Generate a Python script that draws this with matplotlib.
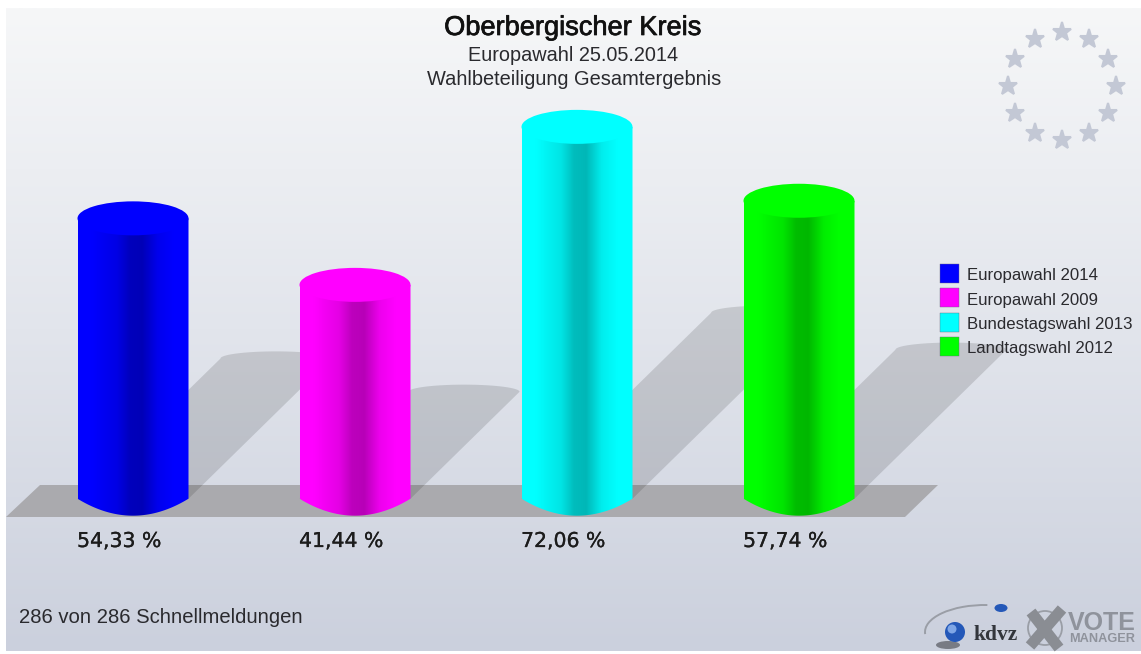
import numpy as np
import matplotlib
matplotlib.use("Agg")
import matplotlib.pyplot as plt
from matplotlib.patches import Polygon, Rectangle, Ellipse, Circle, Arc
from matplotlib.colors import LinearSegmentedColormap
import matplotlib.patheffects as pe

# ---------- data ----------
categories = ["Europawahl 2014", "Europawahl 2009", "Bundestagswahl 2013", "Landtagswahl 2012"]
turnout = [54.33, 41.44, 72.06, 57.74]
colors = ["#0000ff", "#ff00ff", "#00ffff", "#00ff00"]
title = "Oberbergischer Kreis"
subtitle = "Europawahl 25.05.2014"
subtitle2 = "Wahlbeteiligung Gesamtergebnis"
footer = "286 von 286 Schnellmeldungen"

W, H = 1141, 654
plt.rcParams["font.family"] = ["Liberation Sans", "DejaVu Sans"]
fig = plt.figure(figsize=(W / 100, H / 100), dpi=100, facecolor="white")

# decoration layer: pixel coordinates
bg = fig.add_axes([0, 0, 1, 1], zorder=0)
bg.set_xlim(0, W); bg.set_ylim(H, 0); bg.axis("off")

# chart layer: x = category index, y = percent
PX_X, X0 = 222.0, 133.0
PX_Y, Y0 = 5.16, 498.7
ax = fig.add_axes([0, 0, 1, 1], zorder=1)
ax.patch.set_alpha(0)
ax.axis("off")
xlim = (-X0 / PX_X, (W - X0) / PX_X)
ylim = ((Y0 - H) / PX_Y, Y0 / PX_Y)
def ypx(p):
    return (Y0 - p) / PX_Y

# foreground layer: pixel coordinates, above the shadows
fg = fig.add_axes([0, 0, 1, 1], zorder=2)
fg.patch.set_alpha(0)
fg.set_xlim(0, W); fg.set_ylim(H, 0); fg.axis("off")

# background
cm = LinearSegmentedColormap.from_list("bg", ["#f6f7f8", "#e2e5ec", "#cbd0dd"])
bg.imshow(np.linspace(0, 1, 256).reshape(-1, 1), cmap=cm, aspect="auto",
          extent=(6, W, 651, 8), zorder=0)
bg.set_xlim(0, W); bg.set_ylim(H, 0)

# floor
bg.add_patch(Polygon([(6, 517), (40, 485), (938, 485), (905, 517)], closed=True,
                     fc="#aaaaae", ec="none", zorder=1))

# shadows, bars
BW = 0.5
EH = 17 / PX_Y          # half height of end ellipse in percent
SHEAR = 1.02 * PX_Y / PX_X   # category units per percent
t = np.linspace(0, np.pi, 60)
shade_stops = [(0, 1.0), (.12, 1.0), (.35, .90), (.47, .74), (.58, .72), (.72, .93), (.86, 1.0), (1, 1.0)]
fr = np.linspace(0, 1, 200)
shade = np.interp(fr, [s[0] for s in shade_stops], [s[1] for s in shade_stops])

for i, (v, c) in enumerate(zip(turnout, colors)):
    # shadow: bar sheared to the upper right, half as tall
    h = v * 0.5
    cx_top = i + h * SHEAR
    arc_x = cx_top - BW / 2 * np.cos(t)
    arc_y = h + 0.42 * EH * np.sin(t)
    sx = np.r_[i - BW / 2, arc_x, i + BW / 2]
    sy = np.r_[0, arc_y, 0]
    ax.add_patch(Polygon(np.c_[sx, sy], closed=True, fc="black", alpha=0.13, ec="none", zorder=2 + i))

    # cylinder body with gradient
    rgb = np.array(matplotlib.colors.to_rgb(c))
    img = (shade[:, None] * rgb)[None, :, :]
    im = ax.imshow(img, aspect="auto", extent=(i - BW / 2, i + BW / 2, -EH, v), zorder=2.5 + i)
    bx = i - BW / 2 * np.cos(t)
    # lens-shaped lower edge with pointed corners, as in the reference
    by = -EH * (1 - (np.cos(t)) ** 2)
    body = np.r_[np.c_[bx, by], np.c_[bx[::-1], np.full_like(t, v)]]
    clip = Polygon(body, closed=True, transform=ax.transData, fc="none", ec="none")
    ax.add_patch(clip)
    im.set_clip_path(clip)
    # top cap
    ax.add_patch(Ellipse((i, v), BW, 2 * EH, fc=c, ec="none", zorder=2.6 + i))
    # value label
    ax.text(i - BW / 2 - 0.002, ypx(547), f"{v:.2f}".replace(".", ",") + " %",
            fontsize=14.7, family="DejaVu Sans", color="#1c1c1c", va="baseline", ha="left", zorder=10,
            path_effects=[pe.withStroke(linewidth=0.2, foreground="#1c1c1c")])
ax.set_xlim(*xlim); ax.set_ylim(*ylim)

# titles
ink = "#2a2a2e"
thick = [pe.withStroke(linewidth=0.5, foreground="#111111")]
fg.text(573, 35, title, fontsize=19.6, color="#111111", ha="center", va="baseline", path_effects=thick)
fg.text(573, 61, subtitle, fontsize=14.3, color=ink, ha="center", va="baseline")
fg.text(574, 85, subtitle2, fontsize=14.4, color=ink, ha="center", va="baseline")

# legend
for i, (name, c) in enumerate(zip(categories, colors)):
    y = 264 + 24.4 * i
    fg.add_patch(Rectangle((940, y), 19, 19, fc=c, ec="#6a6a80", lw=0.3))
    fg.text(967, y + 16.3, name, fontsize=12.1, color=ink, ha="left", va="baseline")

# footer
fg.text(19, 623, footer, fontsize=14.55, color=ink, ha="left", va="baseline")

# EU stars
ang = np.deg2rad(np.arange(0, 360, 30))
bg.plot(1061.5 + 54 * np.cos(ang), 86 + 54 * np.sin(ang), ls="none", marker="*", ms=14,
        mfc="#c3c8d5", mec="#c3c8d5", mew=1.5, zorder=5)

# kdvz logo
fg.add_patch(Arc((985, 632), 120, 54, theta1=178, theta2=275, ec="#9a9ea6", lw=1.4))
fg.add_patch(Ellipse((948, 645), 24, 8, fc="#55585f", ec="none", alpha=0.7))
fg.add_patch(Circle((955, 632), 10, fc="#2458b8", ec="none"))
fg.add_patch(Circle((952, 629), 4.5, fc="#7fa6e6", ec="none"))
fg.add_patch(Ellipse((1001, 608), 13, 8, fc="#2458b8", ec="none"))
fg.text(974, 640, "kdvz", fontsize=15.5, family="Liberation Serif", weight="bold", color="#33363c")

# vote manager logo
fg.add_patch(Circle((1045, 628), 17, fc="none", ec="#9a9ea6", lw=1.3))
fg.plot([1031, 1059], [612, 648], color="#8a8d93", lw=8, solid_capstyle="butt")
fg.plot([1062, 1030], [609, 646], color="#8a8d93", lw=8, solid_capstyle="butt")
fg.text(1068, 630, "VOTE", fontsize=18, weight="bold", color="#8f939c")
fg.text(1069, 642, "MANAGER", fontsize=9.2, weight="bold", color="#8f939c")
fg.set_xlim(0, W); fg.set_ylim(H, 0)
bg.set_xlim(0, W); bg.set_ylim(H, 0)

fig.savefig("out.png", dpi=100, facecolor="white")
